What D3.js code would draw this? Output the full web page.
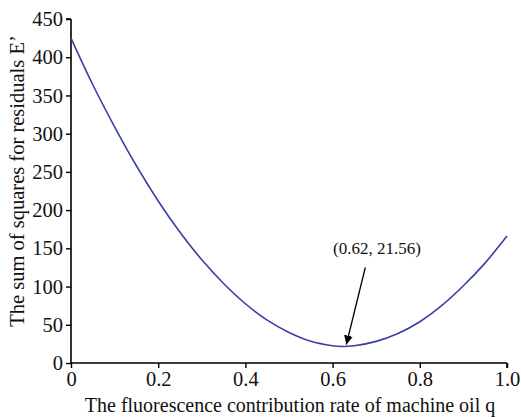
<!DOCTYPE html>
<html>
<head>
<meta charset="utf-8">
<script src="https://cdn.jsdelivr.net/npm/d3@7"></script>
<style>
  body { margin: 0; background: #fff; }
  svg { display: block; }
</style>
</head>
<body>
<svg id="chart"></svg>
<script>
var width = 521;
var height = 419;

// values
var qValues = [0, 0.05, 0.10, 0.15, 0.20, 0.25, 0.30, 0.35, 0.40, 0.45, 0.50, 0.55, 0.60, 0.62, 0.65, 0.70, 0.75, 0.80, 0.85, 0.90, 0.95, 1.00];
var eValues = [425, 364, 309, 258, 212, 171, 135, 104, 77.5, 56, 40, 28.5, 22.6, 21.56, 22.6, 28.3, 38.5, 54, 75, 101, 131, 166];
var xTicks = [0, 0.2, 0.4, 0.6, 0.8, 1.0];
var yTicks = [0, 50, 100, 150, 200, 250, 300, 350, 400, 450];
var minPoint = [0.62, 21.56];
var labelText = "(0.62, 21.56)";

var margin = {left: 71, right: 14, top: 19, bottom: 56};

var svg = d3.select("#chart")
  .attr("width", width)
  .attr("height", height)
  .style("font-family", "'Liberation Serif', 'Times New Roman', serif");

var x = d3.scaleLinear().domain([0, 1]).range([margin.left, width - margin.right]);
var y = d3.scaleLinear().domain([0, 450]).range([height - margin.bottom, margin.top]);

var xAxis = svg.append("g")
  .attr("transform", "translate(0," + y(0) + ")")
  .call(d3.axisBottom(x).tickValues(xTicks).tickSize(5).tickPadding(3)
    .tickFormat(function(d){ return d === 1 ? "1.0" : d3.format("")(d); }));

var yAxis = svg.append("g")
  .attr("transform", "translate(" + x(0) + ",0)")
  .call(d3.axisLeft(y).tickValues(yTicks).tickSize(5).tickPadding(3));

svg.selectAll(".domain").attr("stroke", "#000").attr("stroke-width", 1.6);
svg.selectAll(".tick line").attr("stroke", "#000").attr("stroke-width", 1.4);
svg.selectAll(".tick text")
  .style("font-family", "'Liberation Serif', serif")
  .style("font-size", "20.5px")
  .attr("fill", "#111");
// trim domain end caps
xAxis.select(".domain").attr("d", "M" + x(0) + ",0H" + x(1) + "M" + x(1) + ",0V5");
yAxis.select(".domain").attr("d", "M0," + y(0) + "V" + y(450) + "M0," + y(450) + "H-5");

// curve
var pts = qValues.map(function(q, i){ return [q, eValues[i]]; });
var line = d3.line()
  .x(function(d){ return x(d[0]); })
  .y(function(d){ return y(d[1]); })
  .curve(d3.curveCatmullRom.alpha(0.5));

svg.append("path")
  .datum(pts)
  .attr("d", line)
  .attr("fill", "none")
  .attr("stroke", "#3a3fa6")
  .attr("stroke-width", 1.6);

// annotation
svg.append("defs").append("marker")
  .attr("id", "arrow")
  .attr("viewBox", "0 0 10 10")
  .attr("refX", 10).attr("refY", 5)
  .attr("markerWidth", 9).attr("markerHeight", 9)
  .attr("markerUnits", "userSpaceOnUse")
  .attr("orient", "auto")
  .append("path")
  .attr("d", "M0,0L10,5L0,10z")
  .attr("fill", "#000");

svg.append("line")
  .attr("x1", x(minPoint[0]) + 24).attr("y1", y(minPoint[1]) - 79)
  .attr("x2", x(minPoint[0]) + 5).attr("y2", y(minPoint[1]) - 2)
  .attr("stroke", "#000")
  .attr("stroke-width", 1.3)
  .attr("marker-end", "url(#arrow)");

svg.append("text")
  .attr("x", 333).attr("y", 254)
  .style("font-size", "17px")
  .attr("fill", "#111")
  .text(labelText);

// axis titles
svg.append("text")
  .attr("x", (x(0) + x(1)) / 2 + 1)
  .attr("y", 412)
  .attr("text-anchor", "middle")
  .style("font-size", "20px")
  .attr("fill", "#111")
  .text("The fluorescence contribution rate of machine oil q");

svg.append("text")
  .attr("transform", "translate(24," + 181 + ") rotate(-90)")
  .attr("text-anchor", "middle")
  .style("font-size", "20.5px")
  .attr("fill", "#111")
  .text("The sum of squares for residuals E\u2019");
</script>
</body>
</html>
